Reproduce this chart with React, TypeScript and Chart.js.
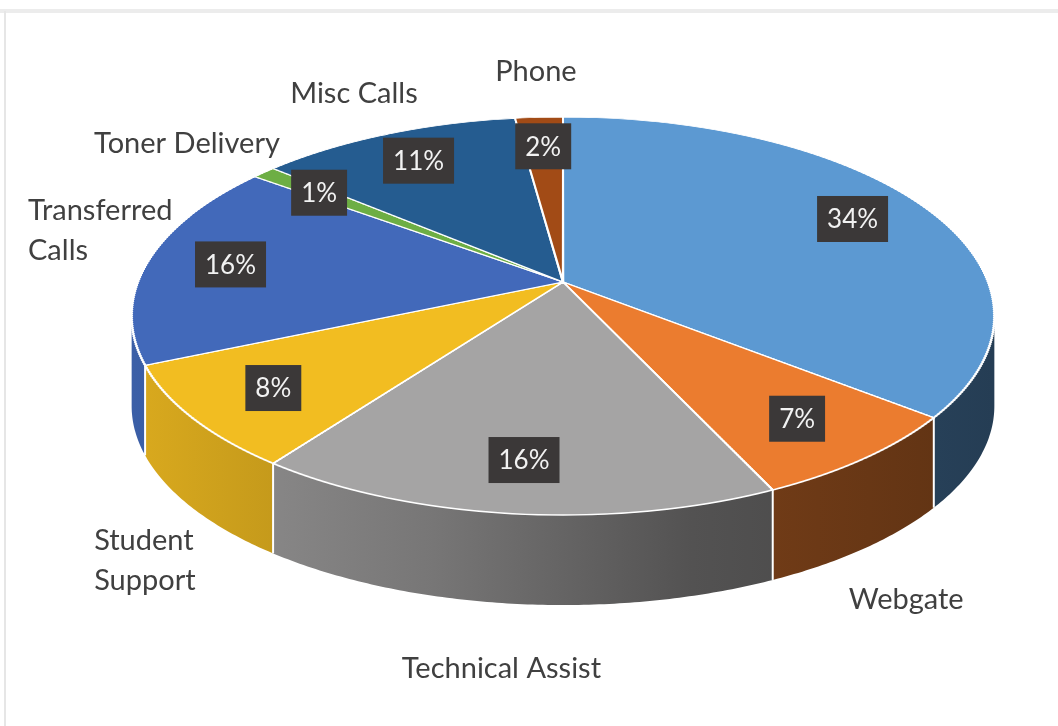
import React, { useEffect, useRef } from "react";
import { Chart, registerables } from "chart.js";
Chart.register(...registerables);

// ---- data ----
const categories: (string | string[])[] = [
  "",
  "Webgate",
  "Technical Assist",
  ["Student", "Support"],
  ["Transferred", "Calls"],
  "Toner Delivery",
  "Misc Calls",
  "Phone",
];
const shares = [34, 7, 16, 8, 16, 1, 11, 2];
const percentLabels = shares.map((v) => `${v}%`);
const topColors = ["#5C99D2", "#EB7C2F", "#A5A4A4", "#F2BD21", "#4269BA", "#6DAE44", "#255C90", "#A24B16"];

// ---- layout / perspective view ----
const W = 1058;
const H = 726;
const XC = 563; // projected centre of the pie top
const YC = 282;
const PA = 425; // horizontal scale
const PB = 193.2; // vertical scale
const PK = -0.171; // perspective factor
const DEPTH = 90;
const STRIP = 2;
const FONT = "Lato, 'Open Sans', sans-serif";

function proj(u: number, v: number) {
  const w = 1 + PK * v;
  return { x: XC + (PA * u) / w, y: YC + (PB * v) / w };
}
function inTop(x: number, y: number) {
  const dy = y - YC;
  const v = dy / (PB - PK * dy);
  const w = 1 + PK * v;
  const u = ((x - XC) * w) / PA;
  return u * u + v * v <= 1;
}
function insidePie(x: number, y: number) {
  for (let t = 0; t <= DEPTH; t += 6) if (inTop(x, y - t)) return true;
  return false;
}

function shade(hex: string, f: number) {
  const n = parseInt(hex.slice(1), 16);
  const r = Math.round(((n >> 16) & 255) * f);
  const g = Math.round(((n >> 8) & 255) * f);
  const b = Math.round((n & 255) * f);
  return `rgb(${r},${g},${b})`;
}

const PHI_S = Math.asin(-PK);

type Rect = { x0: number; y0: number; x1: number; y1: number };
const overlaps = (a: Rect, b: Rect) => a.x0 < b.x1 && b.x0 < a.x1 && a.y0 < b.y1 && b.y0 < a.y1;

const pie3d = {
  id: "pie3d",
  beforeDraw(chart: any) {
    const ctx = chart.ctx as CanvasRenderingContext2D;
    ctx.save();
    ctx.fillStyle = "#ffffff";
    ctx.fillRect(0, 0, W, H);
    ctx.fillStyle = "#ececec";
    ctx.fillRect(0, 9, W, 4);
    ctx.fillStyle = "#e6e6e6";
    ctx.fillRect(4, 11, 2, H - 11);
    ctx.restore();
  },
  beforeDatasetsDraw(chart: any) {
    const ctx = chart.ctx as CanvasRenderingContext2D;
    const arcs = chart.getDatasetMeta(0).data as any[];
    if (!arcs.length) return false;
    const left = proj(-Math.cos(PHI_S), Math.sin(PHI_S)).x;
    const right = proj(Math.cos(PHI_S), Math.sin(PHI_S)).x;

    // side walls
    arcs.forEach((arc: any, i: number) => {
      const a0 = Math.max(arc.startAngle, PHI_S);
      const a1 = Math.min(arc.endAngle, Math.PI - PHI_S);
      if (a1 <= a0) return;
      const base = topColors[i];
      const g = ctx.createLinearGradient(left, 0, right, 0);
      g.addColorStop(0, shade(base, 0.9));
      g.addColorStop(0.35, shade(base, 0.72));
      g.addColorStop(0.65, shade(base, 0.5));
      g.addColorStop(1, shade(base, 0.4));
      const n = Math.max(2, Math.ceil((a1 - a0) / 0.01));
      const pts: { x: number; y: number }[] = [];
      for (let k = 0; k <= n; k++) {
        const a = a0 + ((a1 - a0) * k) / n;
        pts.push(proj(Math.cos(a), Math.sin(a)));
      }
      ctx.beginPath();
      pts.forEach((p, k) => (k ? ctx.lineTo(p.x, p.y) : ctx.moveTo(p.x, p.y)));
      for (let k = pts.length - 1; k >= 0; k--) ctx.lineTo(pts[k].x, pts[k].y + DEPTH);
      ctx.closePath();
      ctx.fillStyle = g;
      ctx.fill();
    });
    // white seams on the side
    ctx.save();
    ctx.strokeStyle = "#ffffff";
    ctx.lineWidth = 2;
    arcs.forEach((arc: any) => {
      const a = arc.startAngle;
      if (a > PHI_S + 0.01 && a < Math.PI - PHI_S - 0.01) {
        const p = proj(Math.cos(a), Math.sin(a));
        ctx.beginPath();
        ctx.moveTo(p.x, p.y);
        ctx.lineTo(p.x, p.y + DEPTH);
        ctx.stroke();
      }
    });
    ctx.restore();

    // top face, drawn strip by strip through a perspective view
    const cx = arcs[0].x;
    const cy = arcs[0].y;
    const r = arcs[0].outerRadius;
    const yTop = Math.floor(proj(0, -1).y) - 3;
    const yBot = Math.ceil(proj(0, 1).y) + 3;
    for (let y0 = yTop; y0 < yBot; y0 += STRIP) {
      const ym = y0 + STRIP / 2;
      const dy = ym - YC;
      const v0 = dy / (PB - PK * dy);
      const w0 = 1 + PK * v0;
      const sx = PA / (w0 * r);
      const sy = PB / (w0 * w0) / r;
      ctx.save();
      ctx.beginPath();
      ctx.rect(0, y0, W, STRIP);
      ctx.clip();
      ctx.translate(XC, ym);
      ctx.scale(sx, sy);
      ctx.translate(-cx, -(cy + v0 * r));
      arcs.forEach((a: any) => a.draw(ctx));
      ctx.restore();
    }
    return false;
  },
  afterDraw(chart: any) {
    const ctx = chart.ctx as CanvasRenderingContext2D;
    const arcs = chart.getDatasetMeta(0).data as any[];
    const placed: Rect[] = [];
    ctx.save();
    arcs.forEach((arc: any, i: number) => {
      const mid = (arc.startAngle + arc.endAngle) / 2;
      const c = Math.cos(mid);
      const s = Math.sin(mid);
      // percentage box
      const p = proj(0.8 * c, 0.8 * s);
      ctx.font = `26px ${FONT}`;
      const tw = ctx.measureText(percentLabels[i]).width;
      const bw = tw + 20;
      const bh = 46;
      ctx.fillStyle = "#3B3838";
      ctx.fillRect(p.x - bw / 2, p.y - bh / 2, bw, bh);
      ctx.fillStyle = "#F2F2F2";
      ctx.textAlign = "center";
      ctx.textBaseline = "middle";
      ctx.fillText(percentLabels[i], p.x, p.y + 1);
    });

    arcs.forEach((arc: any, i: number) => {
      const mid = (arc.startAngle + arc.endAngle) / 2;
      const c = Math.cos(mid);
      const s = Math.sin(mid);
      const cat = categories[i];
      const lines = Array.isArray(cat) ? cat : cat ? [cat] : [];
      if (!lines.length) return;
      ctx.font = `29px ${FONT}`;
      const widths = lines.map((l) => ctx.measureText(l).width);
      const lw = Math.max(...widths);
      const lh = 40;
      const blockH = lines.length * lh;
      const leftAlign = lines.length > 1;
      const rim = proj(c, s);
      let bx: number;
      let by: number;
      if (s > 0) {
        bx = rim.x + c * (lw / 2 + 10);
        by = rim.y + DEPTH + s * (blockH / 2 + 45);
      } else {
        bx = rim.x + c * (lw / 2 + 6);
        by = rim.y + s * (blockH / 2 + 26);
      }
      const minX = 28 + lw / 2;
      const maxX = W - 20 - lw / 2;
      let clamped = false;
      const clamp = () => {
        if (bx < minX) { bx = minX; clamped = true; }
        if (bx > maxX) { bx = maxX; clamped = true; }
      };
      const rects = (): Rect[] =>
        lines.map((_, k) => {
          const x0 = leftAlign ? bx - lw / 2 : bx - widths[k] / 2;
          const y0 = by - blockH / 2 + k * lh + 6;
          return { x0: x0 - 4, y0, x1: x0 + widths[k] + 4, y1: y0 + lh - 10 };
        });
      clamp();
      for (let it = 0; it < 300; it++) {
        const rs = rects();
        const hitPie = rs.some((q) =>
          [[q.x0, q.y0], [q.x1, q.y0], [q.x0, q.y1], [q.x1, q.y1]].some(([x, y]) => insidePie(x, y))
        );
        const hitLabel = rs.some((q) => placed.some((o) => overlaps(q, o)));
        if (!hitPie && !hitLabel) break;
        if (clamped) by += s < 0 ? -2 : 2;
        else { bx += c * 2; by += s * 2; }
        clamp();
      }
      placed.push(...rects());
      ctx.fillStyle = "#404040";
      ctx.textBaseline = "middle";
      ctx.textAlign = leftAlign ? "left" : "center";
      lines.forEach((l, k) => {
        const ty = by - blockH / 2 + lh / 2 + k * lh;
        ctx.fillText(l, leftAlign ? bx - lw / 2 : bx, ty);
      });
    });
    ctx.restore();
  },
};

export default function App() {
  const ref = useRef<HTMLCanvasElement | null>(null);
  useEffect(() => {
    if (!ref.current) return;
    const chart = new Chart(ref.current, {
      type: "pie",
      data: {
        labels: categories as any,
        datasets: [
          {
            data: shares,
            backgroundColor: topColors,
            borderColor: "#ffffff",
            borderWidth: 1.6,
          },
        ],
      },
      options: {
        responsive: false,
        animation: false,
        events: [],
        layout: { padding: { top: 69, bottom: 69 } },
        plugins: { legend: { display: false }, tooltip: { enabled: false }, title: { display: false } },
      },
      plugins: [pie3d as any],
    });
    return () => chart.destroy();
  }, []);
  return (
    <div style={{ position: "fixed", left: 0, top: 0, width: W, height: H, background: "#fff", overflow: "hidden" }}>
      <canvas ref={ref} width={W} height={H} style={{ display: "block", width: W, height: H }} />
    </div>
  );
}
